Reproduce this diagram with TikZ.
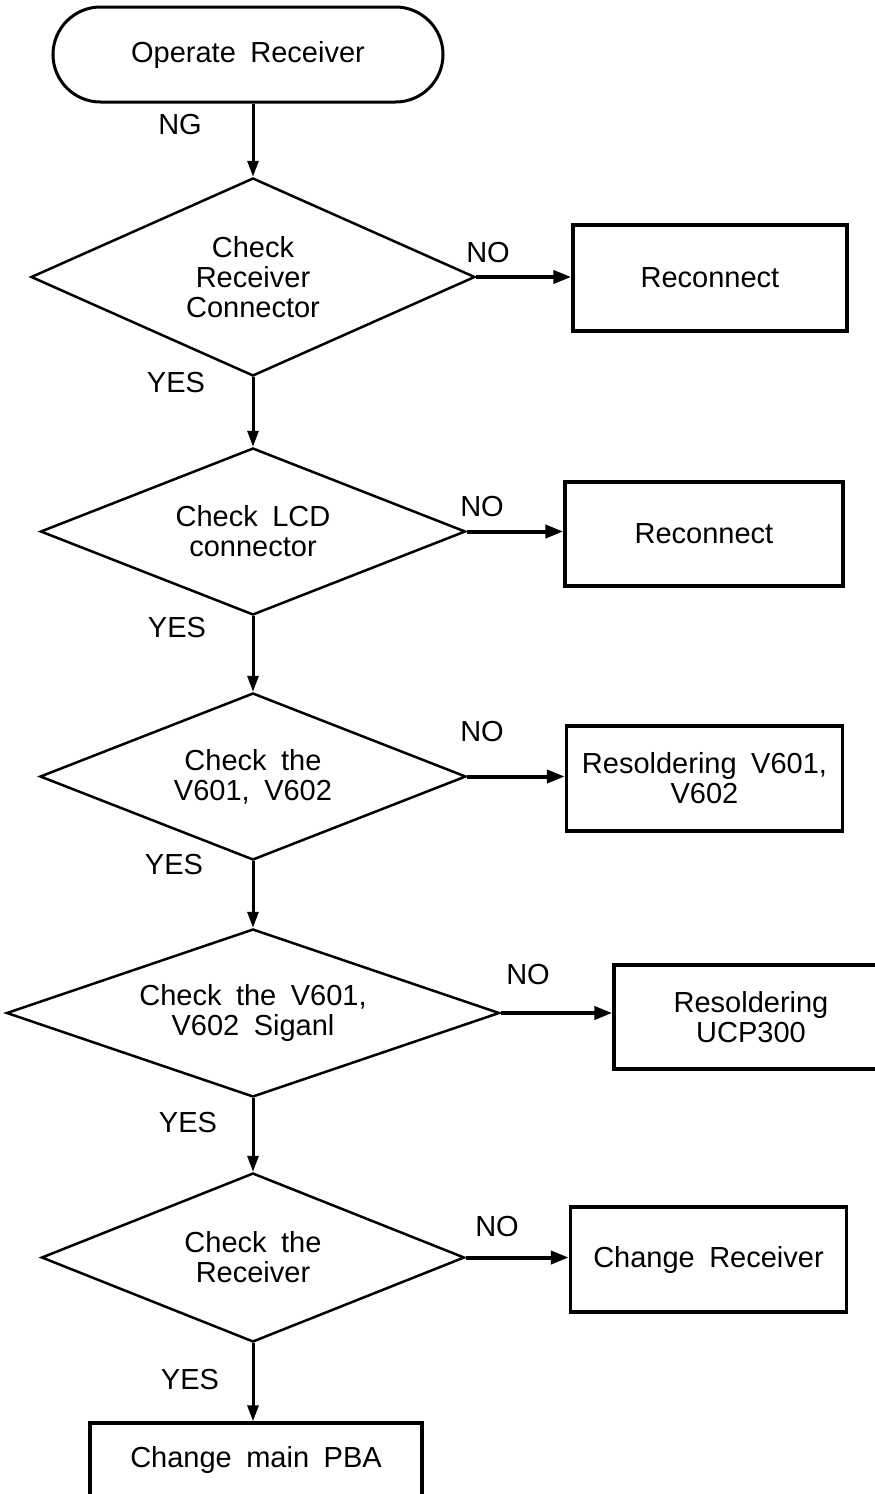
\documentclass[tikz,border=0pt]{standalone}
\usepackage{fontspec}
\setmainfont{Liberation Sans}
\usetikzlibrary{arrows.meta,shapes.geometric,shapes.misc}
\newcommand\chartfont{\fontsize{29}{30}\selectfont\spaceskip=0.5em plus 0pt\relax}
\tikzset{every node/.style={font=\chartfont,align=center,inner sep=0pt},
 terminal/.style={draw,rounded rectangle,line width=3pt,minimum width=390pt,minimum height=95pt},
 decision/.style={draw,diamond,line width=2.5pt,aspect=2.5},
 action/.style={draw,rectangle,line width=3.5pt,minimum width=276pt,minimum height=105pt},
 flow/.style={line width=3pt,-{Triangle[length=16pt,width=11pt]}},
 branch/.style={flow,line width=4pt,-{Triangle[length=18pt,width=13pt]}}}

\begin{document}
\begin{tikzpicture}[x=1pt,y=-1pt]
\useasboundingbox (0,0) rectangle (875,1494);
\node[terminal] (start) at (248,54.5) {Operate Receiver};
\node[decision,aspect=2.24,minimum width=444pt,minimum height=198pt] (conn) at (253,277) {Check\\Receiver\\Connector};
\node[decision,aspect=2.54,minimum width=425pt,minimum height=167pt] (lcd) at (253,531.5) {Check LCD\\connector};
\node[decision,aspect=2.55,minimum width=426pt,minimum height=167pt] (vpart) at (253,776.5) {Check the\\V601, V602};
\node[decision,aspect=2.93,minimum width=493pt,minimum height=168pt] (vsig) at (253,1013) {Check the V601,\\V602 Siganl};
\node[decision,aspect=2.5,minimum width=423pt,minimum height=169pt] (rcv) at (253,1257.5) {Check the\\Receiver};
\node[action,minimum width=274pt,minimum height=106pt] (reconn1) at (710,278) {Reconnect};
\node[action,minimum width=278pt,minimum height=104pt] (reconn2) at (704,534) {Reconnect};
\node[action] (resold1) at (704.5,778.5) {Resoldering V601,\\V602};
\node[action,minimum width=274pt,minimum height=104pt] (resold2) at (751,1017) {Resoldering\\UCP300};
\node[action] (chgrcv) at (708.5,1259.5) {Change Receiver};
\node[action,minimum width=332pt,minimum height=74pt] (chgpba) at (256,1460) {Change main PBA};

\draw[flow] (start.south -| conn.north) -- (conn.north);
\draw[flow] (conn) -- (lcd);
\draw[flow] (lcd) -- (vpart);
\draw[flow] (vpart) -- (vsig);
\draw[flow] (vsig) -- (rcv);
\draw[flow] (rcv.south) -- (rcv.south |- chgpba.north);
\draw[branch] (conn.east) -- (conn.east -| reconn1.west);
\draw[branch] (lcd.east) -- (lcd.east -| reconn2.west);
\draw[branch] (vpart.east) -- (vpart.east -| resold1.west);
\draw[branch] (vsig.east) -- (vsig.east -| resold2.west);
\draw[branch] (rcv.east) -- (rcv.east -| chgrcv.west);

\node (ng) at (180,125) {NG};
\node (no1) at (488,253) {NO};
\node (no2) at (482,507) {NO};
\node (no3) at (482,732) {NO};
\node (no4) at (528,975) {NO};
\node (no5) at (497,1227) {NO};
\node (yes1) at (176,383) {YES};
\node (yes2) at (177,628) {YES};
\node (yes3) at (174,865) {YES};
\node (yes4) at (188,1123) {YES};
\node (yes5) at (190,1379) {YES};
\end{tikzpicture}
\end{document}
